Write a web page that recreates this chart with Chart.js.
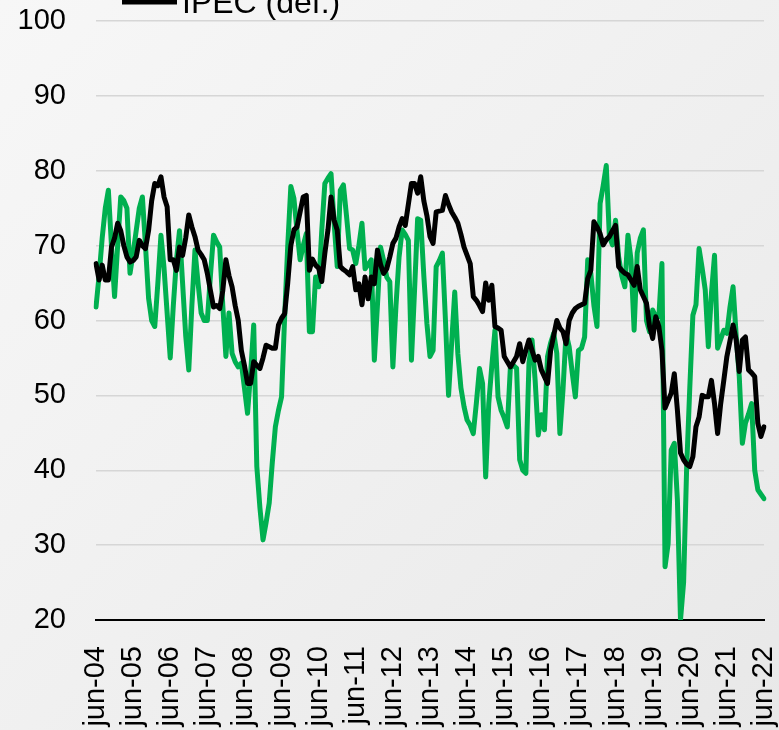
<!DOCTYPE html>
<html>
<head>
<meta charset="utf-8">
<script src="https://cdn.jsdelivr.net/npm/chart.js@4"></script>
<style>
  html, body { margin: 0; padding: 0; }
  body {
    width: 779px; height: 730px; overflow: hidden;
    background: linear-gradient(135deg, #f7f7f7 0%, #f0f0f0 50%, #e8e8e8 100%);
  }
  canvas { display: block; }
</style>
</head>
<body>
<canvas id="chart" width="779" height="730"></canvas>
<script>
// meses en español, la serie empieza en jun-04
const mesesCortos = ['ene', 'feb', 'mar', 'abr', 'may', 'jun', 'jul', 'ago', 'sep', 'oct', 'nov', 'dic'];
const primerAnio = 2004;
const primerMes = 5; // junio

// serie verde (leyenda cortada arriba)
const serieVerde = [
  61.8, 66, 71, 75, 77.4, 70, 63.2, 70, 76.5, 76, 75, 66.3,
  69, 72, 75, 76.5, 70, 63, 60, 59.2, 65, 71.4, 67, 61,
  55, 62, 68, 72, 65, 58, 53.4, 62, 69.4, 65, 61, 60,
  60, 66, 71.4, 70.5, 69.8, 62, 55.2, 61, 55.6, 54.5, 53.8, 54.3,
  51, 47.6, 53, 59.4, 40.5, 35, 30.7, 33, 35.6, 41, 45.8, 48,
  49.8, 60.5, 70, 77.9, 76.3, 72, 68.1, 70, 71.6, 58.5, 58.5, 65.8,
  64.5, 72, 78.3, 79, 79.6, 73, 67.2, 77.4, 78.1, 74, 69.6, 69.4,
  67.6, 70, 73, 66.9, 67.5, 68.1, 54.7, 62, 69.8, 68, 65.8, 65.2,
  53.8, 62, 68.5, 72.1, 71.5, 70.7, 54.7, 64, 73.6, 73.4, 66, 59.6,
  55.2, 56, 67.2, 68, 69, 60, 50, 57, 63.8, 55.6, 51, 48.5,
  46.7, 46, 44.9, 49, 53.6, 51.6, 39.1, 48.9, 54, 58.7, 49.8, 48,
  47, 45.8, 53.8, 54, 53.6, 41.4, 40, 39.6, 54.3, 57.4, 52, 44.7,
  47.4, 45.4, 55.2, 57, 58.3, 55.6, 44.9, 50.7, 58.3, 56.5, 53, 49.8,
  56, 56.3, 57.8, 68.1, 66.3, 62, 59.2, 75.6, 78, 80.7, 71.2, 70.1,
  73.4, 68.5, 66, 64.5, 71.4, 68.1, 58.7, 69, 71, 72.1, 60, 58.5,
  61.4, 60.5, 60.5, 67.6, 27.1, 30.2, 42.7, 43.6, 36, 20, 25, 40.5,
  51, 60.7, 62.1, 69.6, 67, 64.1, 56.5, 63.6, 68.7, 56.3, 57.5, 58.7,
  58.3, 61.8, 64.5, 58, 52.5, 43.6, 46.3, 47.5, 48.9, 40, 37.4, 36.8,
  36.2
];

// IPEC (def.)
const ipecDef = [
  67.6, 65.4, 67.4, 65.4, 65.4, 69.8, 71, 73, 72, 70, 68.5, 67.8,
  68, 68.5, 70.7, 70, 69.6, 72, 76, 78.3, 78, 79.2, 76.5, 75.2,
  68.1, 68.1, 66.7, 69.8, 68.7, 71, 74.1, 72.5, 71.2, 69.4, 68.8, 68.1,
  66.3, 64, 61.8, 62, 61.6, 64, 68.1, 66, 64.5, 62, 60, 56,
  54, 51.6, 51.6, 54.5, 54, 53.6, 55, 56.7, 56.5, 56.3, 56.3, 59.4,
  60.3, 60.9, 65, 70, 72.1, 72.5, 74.5, 76.5, 76.7, 66.7, 68.2, 67.4,
  67, 65.2, 69, 72.1, 76.5, 73.4, 72.1, 67.2, 66.8, 66.5, 66.1, 67.2,
  64.1, 64.9, 62.1, 65.8, 62.9, 65.8, 64.9, 69.4, 67.5, 66.3, 66.9, 68.5,
  70.3, 71, 72.5, 73.6, 72.7, 75.5, 78.3, 78.3, 77, 79.2, 76, 74,
  71.2, 70.3, 74.5, 74.6, 74.7, 76.7, 75.5, 74.5, 73.8, 73, 71.5, 69.8,
  68.7, 67.6, 63.2, 62.7, 62, 61.2, 65, 62.7, 64.7, 59.2, 59, 58.7,
  55.2, 54.5, 53.8, 54.5, 55.2, 56.9, 54.5, 56, 57.4, 56, 54.7, 55.2,
  53.4, 52.5, 51.6, 56, 58, 60, 59, 58.5, 56.9, 60, 61, 61.6,
  61.9, 62.1, 62.3, 65.6, 66.7, 73.2, 72.5, 71.6, 70.1, 70.8, 71.2, 72,
  72.7, 67.2, 66.7, 66.3, 66.1, 65.4, 64.7, 67.2, 64.1, 63.2, 62.3, 59.2,
  57.6, 60.5, 59.2, 56, 48.3, 49.3, 50.3, 52.9, 48, 42.3, 41.4, 40.8,
  40.5, 41.8, 45.8, 47.1, 50, 49.8, 49.8, 52, 48.9, 44.9, 48.9, 52,
  55.2, 57.3, 59.4, 57.4, 53.2, 57.4, 57.8, 53.4, 53, 52.5, 46.3, 44.5,
  45.8
];

const yMin = 20;
const yMax = 100;
const yPaso = 10;

// etiquetas mensuales: "jun-04", "jul-04", ...
const etiquetas = ipecDef.map((_, i) => {
  const m = (primerMes + i) % 12;
  const anio = primerAnio + Math.floor((primerMes + i) / 12);
  return mesesCortos[m] + '-' + String(anio % 100).padStart(2, '0');
});

const fuente = "'Liberation Sans', Arial, sans-serif";

// leyenda a medias, cortada por el borde superior como en el original
const leyendaCortada = {
  id: 'leyendaCortada',
  afterDraw(chart) {
    const ctx = chart.ctx;
    ctx.save();
    ctx.strokeStyle = '#000';
    ctx.lineWidth = 5;
    ctx.beginPath();
    ctx.moveTo(122, 2);
    ctx.lineTo(177, 2);
    ctx.stroke();
    ctx.fillStyle = '#000';
    ctx.font = '32px ' + fuente;
    ctx.textBaseline = 'alphabetic';
    ctx.fillText('IPEC (def.)', 182, 13);
    ctx.restore();
  }
};

new Chart(document.getElementById('chart'), {
  type: 'line',
  data: {
    labels: etiquetas,
    datasets: [
      {
        label: 'IPEC (def.)',
        data: ipecDef,
        borderColor: '#000000',
        borderWidth: 5,
        pointRadius: 0,
        tension: 0,
        borderJoinStyle: 'round',
        borderCapStyle: 'round',
        order: 1
      },
      {
        label: 'Serie',
        data: serieVerde,
        borderColor: '#00b050',
        borderWidth: 5,
        pointRadius: 0,
        tension: 0,
        borderJoinStyle: 'round',
        borderCapStyle: 'round',
        order: 2
      }
    ]
  },
  options: {
    responsive: false,
    animation: false,
    layout: { padding: { top: 21, right: 15, left: 0, bottom: 0 } },
    plugins: {
      legend: { display: false },
      tooltip: { enabled: false }
    },
    scales: {
      x: {
        offset: false,
        grid: { display: false },
        border: { display: true, color: '#000', width: 2 },
        ticks: {
          autoSkip: false,
          minRotation: 90,
          maxRotation: 90,
          padding: 18,
          color: '#000',
          font: { family: fuente, size: 29 },
          callback: function (val, i) {
            return i % 12 === 0 ? this.getLabelForValue(val) : null;
          }
        },
        afterFit: (scale) => {
          scale.height = 110;
          scale.paddingLeft = 0;
          scale.paddingRight = 0;
        }
      },
      y: {
        min: yMin,
        max: yMax,
        grid: { color: '#d6d6d6', lineWidth: 1.5, drawTicks: false },
        border: { display: false },
        ticks: {
          stepSize: yPaso,
          padding: 30,
          color: '#000',
          font: { family: fuente, size: 29 }
        },
        afterFit: (scale) => {
          scale.width = 96;
          scale.paddingTop = 0;
          scale.paddingBottom = 0;
        }
      }
    }
  },
  plugins: [leyendaCortada]
});
</script>
</body>
</html>
